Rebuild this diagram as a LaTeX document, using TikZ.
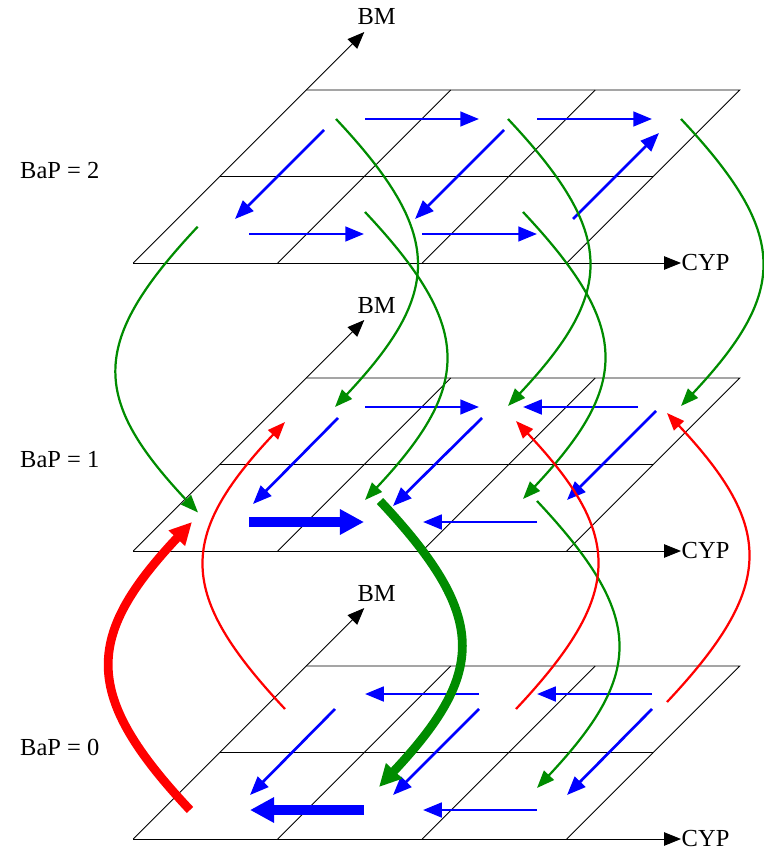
\documentclass[tikz,border=0pt]{standalone}
\usepackage{fontspec}
\setmainfont{Liberation Serif}
\usetikzlibrary{arrows.meta}
\definecolor{flowgreen}{RGB}{0,140,0}
\begin{document}
\begin{tikzpicture}[x=0.03cm,y=-0.03cm,
  font=\fontsize{20.9pt}{25pt}\selectfont,
  gridline/.style={black,line width=0.8pt},
  axis/.style={black,line width=0.8pt,-{Triangle[length=14.5pt,width=11.5pt]}},
  move/.style={blue,line width=2.3pt,-{Triangle[length=16pt,width=12.5pt]}},
  bigmove/.style={blue,line width=8.5pt,-{Triangle[length=20.5pt,width=20.5pt]}},
  drop/.style={flowgreen,line width=1.9pt,-{Triangle[length=15pt,width=11.5pt]}},
  bigdrop/.style={flowgreen,line width=7.5pt,-{Triangle[length=19pt,width=18pt]}},
  rise/.style={red,line width=1.9pt,-{Triangle[length=15pt,width=11.5pt]}},
  bigrise/.style={red,line width=7.5pt,-{Triangle[length=19pt,width=18pt]}}]
\useasboundingbox (0,0) rectangle (763,851);

% three BaP levels, each a 3 x 2 skewed grid (CYP x BM)
\foreach \B/\p in {263/2,551/1,839/0}{
  \coordinate (o-\p)  at (133.3,\B);
  \coordinate (br-\p) at (566.7,\B);
  \coordinate (tr-\p) at (739.7,\B-173);
  \coordinate (tl-\p) at (306.3,\B-173);
  \coordinate (bmtip-\p)  at (364.3,\B-231);
  \coordinate (cyptip-\p) at (681,\B);
  \draw[gridline] (tl-\p) -- (tr-\p) -- (br-\p);
  \draw[gridline] (219.8,\B-86.5) -- (653.2,\B-86.5);
  \draw[gridline] (277.7,\B) -- (450.7,\B-173);
  \draw[gridline] (422.2,\B) -- (595.2,\B-173);
  \draw[axis] (o-\p) -- (bmtip-\p);
  \draw[axis] (o-\p) -- (cyptip-\p);
  \node[anchor=base,inner sep=0pt] (bm-\p) at (376.7,\B-238) {BM};
  \node[anchor=base west,inner sep=0pt] (cyp-\p) at (681.5,\B+7.5) {CYP};
  \node[anchor=base west,inner sep=0pt] (bap-\p) at (20,\B-84) {BaP = \p};
}

% moves within a level
\foreach \n/\s/\e in {
  t1/{365,119}/{479,119}, t2/{537,119}/{652,119},
  t3/{324,130}/{235,219}, t4/{504,130}/{415,219},
  t5/{249,234}/{364,234}, t6/{422,234}/{537,234},
  t7/{573,219}/{659,133},
  m1/{365,407}/{479,407}, m2/{638,407}/{523,407},
  m3/{338,418}/{253,504}, m4/{482,418}/{393,506},
  m5/{656,411}/{567,500}, m7/{537,522}/{423,522},
  b1/{479,694}/{365,694}, b2/{652,694}/{537,694},
  b3/{335,709}/{250,795}, b4/{479,709}/{393,795},
  b5/{652,709}/{567,795}, b7/{537,810}/{423,810}}{
  \coordinate (\n-s) at (\s);
  \coordinate (\n-e) at (\e);
  \draw[move] (\n-s) -- (\n-e);
}
\coordinate (m6-s) at (249,522);
\coordinate (m6-e) at (364,522);
\draw[bigmove] (m6-s) -- (m6-e);
\coordinate (b6-s) at (364,810);
\coordinate (b6-e) at (250,810);
\draw[bigmove] (b6-s) -- (b6-e);

% BaP decreasing one level
\foreach \n/\s/\e/\d in {
  g1/{197.7,226.7}/{198,512.5}/-1, g2/{336,119}/{335,407}/1,
  g3/{365,212}/{365,500}/1, g4/{508,119}/{508,406}/1,
  g5/{523,212}/{523,499}/1, g6/{681,119}/{681,406}/1,
  g8/{537,501}/{537,788}/1}{
  \coordinate (\n-s) at (\s);
  \coordinate (\n-e) at (\e);
  \draw[drop] (\n-s) .. controls +(\d*108,115) and +(\d*108,-115) .. (\n-e);
}
\coordinate (g7-s) at (380,501);
\coordinate (g7-e) at (379,787);
\draw[bigdrop] (g7-s) .. controls +(108,115) and +(108,-115) .. (g7-e);

% BaP increasing one level
\foreach \n/\s/\e/\d in {
  r2/{285,709}/{285,422}/-1, r3/{516,709}/{516,421}/1,
  r4/{667,702}/{667,413}/1}{
  \coordinate (\n-s) at (\s);
  \coordinate (\n-e) at (\e);
  \draw[rise] (\n-s) .. controls +(\d*108,-115) and +(\d*108,115) .. (\n-e);
}
\coordinate (r1-s) at (190,810);
\coordinate (r1-e) at (192,522);
\draw[bigrise] (r1-s) .. controls +(-108,-115) and +(-108,115) .. (r1-e);
\end{tikzpicture}
\end{document}
